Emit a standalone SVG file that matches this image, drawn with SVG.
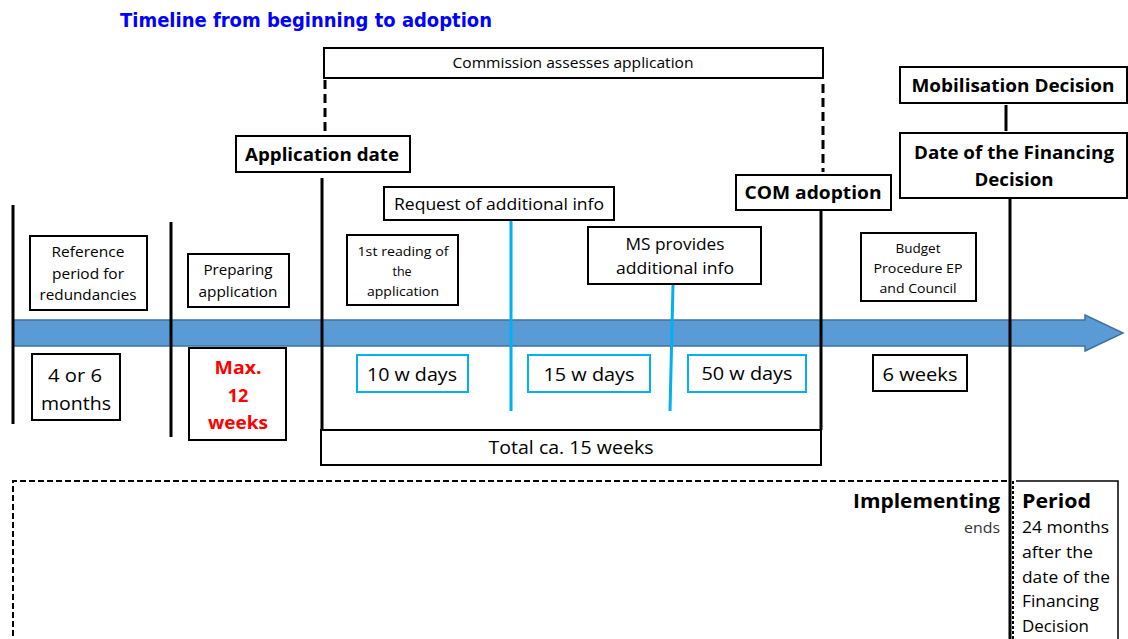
<svg xmlns="http://www.w3.org/2000/svg" width="1128" height="639" viewBox="0 0 1128 639">
<style>
.t{font-family:"Open Sans","Liberation Sans",sans-serif;fill:#000;text-anchor:middle}
.b{font-weight:bold}
.bx{fill:#fff;stroke:#000;stroke-width:2}
.bb{fill:#fff;stroke:#00B0F0;stroke-width:2}
.vl{stroke:#000;stroke-width:3;fill:none}
.bl{stroke:#00B0F0;stroke-width:3;fill:none}
.dl{stroke:#000;stroke-width:3;stroke-dasharray:9,5;fill:none}
</style>
<rect width="1128" height="639" fill="#fff"/>
<text x="306" y="27" font-family="'DejaVu Sans',sans-serif" font-weight="bold" font-size="19" fill="#0000FF" text-anchor="middle" textLength="372" lengthAdjust="spacingAndGlyphs">Timeline from beginning to adoption</text>

<g id="arrow">
<path d="M13,320 H1085 V315 L1123,333 L1085,351 V346 H13 Z" fill="#5B9BD5" stroke="#41719C" stroke-width="1.5"/>
</g>

<g id="connectors">
<line class="vl" x1="13" y1="205" x2="13" y2="424"/>
<line class="vl" x1="171" y1="222" x2="171" y2="437"/>
<line class="vl" x1="322" y1="178" x2="322" y2="430"/>
<line class="vl" x1="821" y1="210" x2="821" y2="430"/>
<line class="vl" x1="1010" y1="197" x2="1010" y2="639"/>
<line class="vl" x1="1006" y1="105" x2="1006" y2="131"/>
<line class="dl" x1="325" y1="80" x2="325" y2="134"/>
<line class="dl" x1="823" y1="84" x2="823" y2="172"/>
<line class="bl" x1="511" y1="220" x2="511" y2="411"/>
<line class="bl" x1="673" y1="285" x2="670" y2="411"/>
</g>

<g id="commission"><rect class="bx" x="324" y="48" width="499" height="30"/>
<text class="t" x="573" y="68" font-size="14" textLength="241" lengthAdjust="spacingAndGlyphs">Commission assesses  application</text></g>

<g id="appdate"><rect class="bx" x="236" y="136" width="174" height="36"/>
<text class="t b" x="322" y="161" font-size="18" textLength="154" lengthAdjust="spacingAndGlyphs">Application date</text></g>

<g id="request"><rect class="bx" x="384" y="187" width="230" height="33"/>
<text class="t" x="499" y="210" font-size="16" textLength="210" lengthAdjust="spacingAndGlyphs">Request  of additional info</text></g>

<g id="reading"><rect class="bx" x="347" y="235" width="111" height="70"/>
<text class="t" x="403" y="256" font-size="12.5" textLength="91" lengthAdjust="spacingAndGlyphs">1st reading  of</text>
<text class="t" x="402" y="276" font-size="12.5">the</text>
<text class="t" x="403" y="296" font-size="12.5" textLength="72" lengthAdjust="spacingAndGlyphs">application</text></g>

<g id="msprovides"><rect class="bx" x="588" y="227" width="173" height="57"/>
<text class="t" x="675" y="250" font-size="16" textLength="99" lengthAdjust="spacingAndGlyphs">MS provides</text>
<text class="t" x="675" y="274" font-size="16" textLength="118" lengthAdjust="spacingAndGlyphs">additional  info</text></g>

<g id="comadoption"><rect class="bx" x="736" y="175" width="155" height="35"/>
<text class="t b" x="813" y="199" font-size="18" textLength="137" lengthAdjust="spacingAndGlyphs">COM adoption</text></g>

<g id="mobilisation"><rect class="bx" x="900" y="67" width="227" height="36"/>
<text class="t b" x="1013" y="92" font-size="18" textLength="203" lengthAdjust="spacingAndGlyphs">Mobilisation Decision</text></g>

<g id="financing"><rect class="bx" x="900" y="133" width="227" height="65"/>
<text class="t b" x="1014" y="159" font-size="18" textLength="200" lengthAdjust="spacingAndGlyphs">Date of the Financing</text>
<text class="t b" x="1014" y="186" font-size="18" textLength="79" lengthAdjust="spacingAndGlyphs">Decision</text></g>

<g id="budget"><rect class="bx" x="861" y="233" width="115" height="68"/>
<text class="t" x="918" y="253" font-size="12.5" textLength="45" lengthAdjust="spacingAndGlyphs">Budget</text>
<text class="t" x="918" y="273" font-size="12.5" textLength="89" lengthAdjust="spacingAndGlyphs">Procedure EP</text>
<text class="t" x="918" y="293" font-size="12.5" textLength="77" lengthAdjust="spacingAndGlyphs">and Council</text></g>

<g id="reference"><rect class="bx" x="30" y="236" width="117" height="74"/>
<text class="t" x="88" y="257" font-size="14" textLength="73" lengthAdjust="spacingAndGlyphs">Reference</text>
<text class="t" x="88" y="279" font-size="14" textLength="72" lengthAdjust="spacingAndGlyphs">period for</text>
<text class="t" x="88" y="300" font-size="14" textLength="97" lengthAdjust="spacingAndGlyphs">redundancies</text></g>

<g id="preparing"><rect class="bx" x="188" y="254" width="101" height="53"/>
<text class="t" x="238" y="275" font-size="14" textLength="69" lengthAdjust="spacingAndGlyphs">Preparing</text>
<text class="t" x="238" y="297" font-size="14" textLength="79" lengthAdjust="spacingAndGlyphs">application</text></g>

<g id="months"><rect class="bx" x="32" y="354" width="88" height="66"/>
<text class="t" x="75" y="382" font-size="19" textLength="54" lengthAdjust="spacingAndGlyphs">4 or 6</text>
<text class="t" x="76" y="410" font-size="19" textLength="70" lengthAdjust="spacingAndGlyphs">months</text></g>

<g id="max12"><rect class="bx" x="189" y="348" width="97" height="92"/>
<text class="t b" x="238" y="374" font-size="18" fill="#FF0000" style="fill:#FF0000" textLength="47" lengthAdjust="spacingAndGlyphs">Max.</text>
<text class="t b" x="238" y="402" font-size="18" style="fill:#FF0000">12</text>
<text class="t b" x="238" y="429" font-size="18" style="fill:#FF0000" textLength="60" lengthAdjust="spacingAndGlyphs">weeks</text></g>

<g id="d10"><rect class="bb" x="357" y="355" width="111" height="37"/>
<text class="t" x="412" y="381" font-size="18" textLength="90" lengthAdjust="spacingAndGlyphs">10 w days</text></g>
<g id="d15"><rect class="bb" x="528" y="355" width="122" height="37"/>
<text class="t" x="589" y="381" font-size="18" textLength="91" lengthAdjust="spacingAndGlyphs">15 w days</text></g>
<g id="d50"><rect class="bb" x="688" y="355" width="118" height="37"/>
<text class="t" x="747" y="380" font-size="18" textLength="91" lengthAdjust="spacingAndGlyphs">50 w days</text></g>
<g id="w6"><rect class="bx" x="873" y="355" width="94" height="36"/>
<text class="t" x="920" y="381" font-size="18" textLength="75" lengthAdjust="spacingAndGlyphs">6 weeks</text></g>

<g id="total"><rect class="bx" x="321" y="430" width="500" height="35"/>
<text class="t" x="571" y="454" font-size="18" textLength="165" lengthAdjust="spacingAndGlyphs">Total ca. 15 weeks</text></g>

<g id="implementing">
<path d="M13,645 V481 H1010" fill="none" stroke="#000" stroke-width="2" stroke-dasharray="6,3"/>
<line x1="1013" y1="481" x2="1013" y2="639" stroke="#000" stroke-width="2" stroke-dasharray="3,2"/>
<text class="t b" x="1000" y="508" font-size="20" style="text-anchor:end" textLength="147" lengthAdjust="spacingAndGlyphs">Implementing</text>
<text class="t" x="1000" y="533" font-size="15" style="text-anchor:end;fill:#333" textLength="36" lengthAdjust="spacingAndGlyphs">ends</text>
</g>

<g id="period">
<path d="M1016,481 H1118 V645" fill="none" stroke="#000" stroke-width="1.5"/>
<text class="t b" x="1022" y="508" font-size="20" style="text-anchor:start" textLength="69" lengthAdjust="spacingAndGlyphs">Period</text>
<text class="t" x="1022" y="533" font-size="16" style="text-anchor:start" textLength="87" lengthAdjust="spacingAndGlyphs">24 months</text>
<text class="t" x="1022" y="558" font-size="16" style="text-anchor:start" textLength="71" lengthAdjust="spacingAndGlyphs">after the</text>
<text class="t" x="1022" y="583" font-size="16" style="text-anchor:start" textLength="88" lengthAdjust="spacingAndGlyphs">date of the</text>
<text class="t" x="1022" y="607" font-size="16" style="text-anchor:start" textLength="77" lengthAdjust="spacingAndGlyphs">Financing</text>
<text class="t" x="1022" y="632" font-size="16" style="text-anchor:start" textLength="67" lengthAdjust="spacingAndGlyphs">Decision</text>
</g>
</svg>
